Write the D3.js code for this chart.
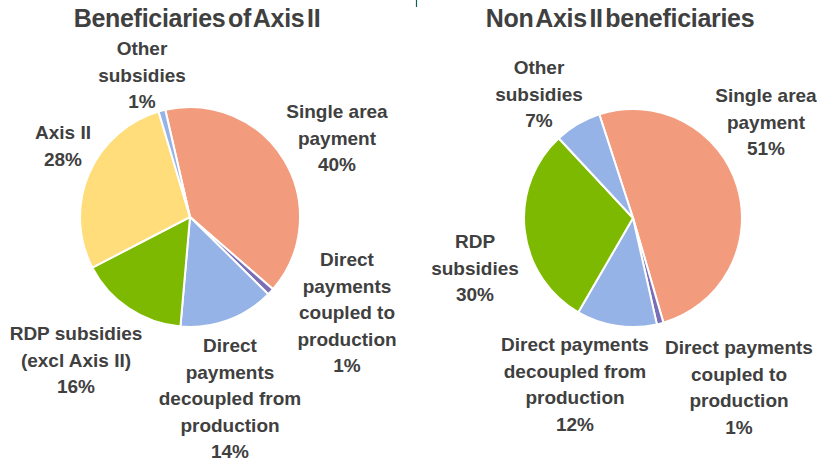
<!DOCTYPE html>
<html>
<head>
<meta charset="utf-8">
<script src="https://cdn.jsdelivr.net/npm/d3@7"></script>
<style>
  body { margin: 0; background: #fff; }
  text { font-family: "Liberation Sans", Arial, sans-serif; font-weight: bold; fill: #404040; }
</style>
</head>
<body>
<div id="chart"></div>
<script>
// data
const axisCategories = ["Single area payment", "Direct payments coupled to production",
  "Direct payments decoupled from production", "RDP subsidies (excl Axis II)", "Axis II", "Other subsidies"];
const axisValues = [40, 1, 14, 16, 28, 1];
const axisLabels = [["Single area", "payment"], ["Direct", "payments", "coupled to", "production"],
  ["Direct", "payments", "decoupled from", "production"], ["RDP subsidies", "(excl Axis II)"],
  ["Axis II"], ["Other", "subsidies"]];

const nonCategories = ["Single area payment", "Direct payments coupled to production",
  "Direct payments decoupled from production", "RDP subsidies", "Other subsidies"];
const nonValues = [51, 1, 12, 30, 7];
const nonLabels = [["Single area", "payment"], ["Direct payments", "coupled to", "production"],
  ["Direct payments", "decoupled from", "production"], ["RDP", "subsidies"], ["Other", "subsidies"]];

// layout
const W = 821, H = 466;
const colors = {
  "Single area payment": "#f29b7d",
  "Direct payments coupled to production": "#7a6fb6",
  "Direct payments decoupled from production": "#95b3e6",
  "RDP subsidies (excl Axis II)": "#7cb900",
  "RDP subsidies": "#7cb900",
  "Axis II": "#fedd7a",
  "Other subsidies": "#95b3e6"
};

const charts = [
  { title: "Beneficiaries of Axis II", titleX: 197, cx: 190, cy: 217, r: 110, start: -13,
    cats: axisCategories, vals: axisValues, labels: axisLabels,
    // label anchor (center x, first baseline) relative to pie center
    lpos: [[147, -99], [157, 49], [40, 135], [-114, 123], [-127, -78], [-48, -162]] },
  { title: "Non Axis II beneficiaries", titleX: 620, cx: 633, cy: 218, r: 109, start: -18,
    cats: nonCategories, vals: nonValues, labels: nonLabels,
    lpos: [[133, -116], [106, 136], [-58, 133], [-158, 30], [-94, -144]] }
];

const lineH = 26.5;

const svg = d3.select("#chart").append("svg")
  .attr("width", W)
  .attr("height", H);

// small artifact line at top
svg.append("line")
  .attr("x1", 416.5).attr("x2", 416.5)
  .attr("y1", 0).attr("y2", 7)
  .attr("stroke", "#0b5f5f")
  .attr("stroke-width", 1.2);

charts.forEach(c => {
  const pie = d3.pie()
    .sort(null)
    .startAngle(c.start * Math.PI / 180)
    .endAngle((c.start + 360) * Math.PI / 180);
  const arc = d3.arc().innerRadius(0).outerRadius(c.r);

  svg.append("text")
    .attr("x", c.titleX)
    .attr("y", 27)
    .attr("text-anchor", "middle")
    .style("font-size", "25px")
    .style("letter-spacing", "-0.3px")
    .style("word-spacing", "-4px")
    .text(c.title);

  const g = svg.append("g")
    .attr("transform", `translate(${c.cx},${c.cy})`);

  g.selectAll("path")
    .data(pie(c.vals))
    .enter()
    .append("path")
    .attr("d", arc)
    .attr("fill", (d, i) => colors[c.cats[i]])
    .attr("stroke", "#fff")
    .attr("stroke-width", 2)
    .attr("stroke-linejoin", "round");

  c.vals.forEach((v, i) => {
    const lines = c.labels[i].concat([v + "%"]);
    const t = g.append("text")
      .attr("text-anchor", "middle")
      .style("font-size", "19px");
    lines.forEach((s, j) => {
      t.append("tspan")
        .attr("x", c.lpos[i][0])
        .attr("y", c.lpos[i][1] + j * lineH)
        .text(s);
    });
  });
});
</script>
</body>
</html>
